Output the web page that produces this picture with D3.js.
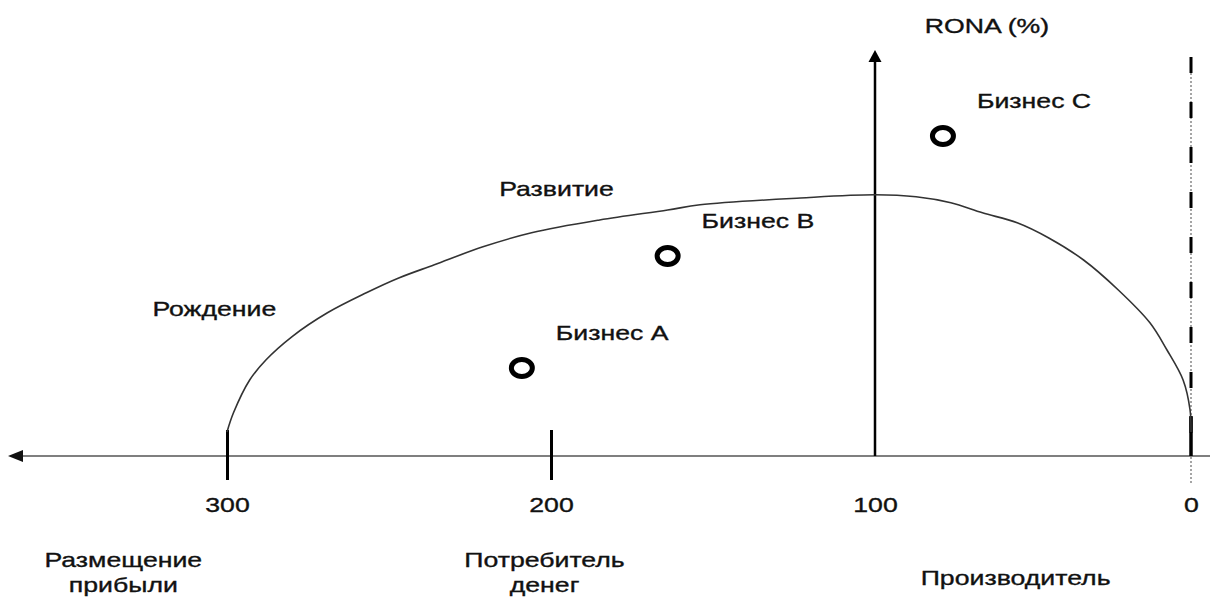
<!DOCTYPE html>
<html>
<head>
<meta charset="utf-8">
<script src="https://cdn.jsdelivr.net/npm/d3@7"></script>
<style>
  body { margin: 0; background: #fff; }
  svg text { font-family: "Liberation Sans", Arial, sans-serif; fill: #111; stroke: #111; stroke-width: 0.35px; }
</style>
</head>
<body>
<svg id="chart" width="1210" height="600"></svg>
<script>
var svg = d3.select("#chart");
var width = 1210, height = 600;

// axis ticks (capital employed, read right to left)
var tickValues = [300, 200, 100, 0];

// life-cycle curve: [x value, RONA]
var curveX = [300, 298, 293, 288, 280, 269, 257, 247, 236, 221, 206, 185, 164, 154, 123, 100, 87, 76, 66, 55, 45, 34, 23, 13, 7.6, 2.5, 0.3, 0];
var curveY = [6, 10.8, 19, 24, 29.8, 35.8, 40.8, 44.5, 47.8, 52.3, 55.8, 59, 61.5, 62.8, 64.5, 65.3, 64.8, 63.3, 60.8, 58.3, 54.5, 49, 41.5, 33.3, 26.5, 19, 11.5, 6];

// businesses
var bizNames = ["Бизнес А", "Бизнес В", "Бизнес С"];
var bizX = [209, 164, 78.5];
var bizY = [22, 50, 80];

// stage labels along the curve
var stageNames = ["Рождение", "Развитие"];
var stageX = [323, 216];
var stageY = [35, 65];

// bottom role labels
var roleLines = [["Размещение", "прибыли"], ["Потребитель", "денег"], ["Производитель"]];
var roleX = [332, 202, 55.5];

var x = d3.scaleLinear().domain([300, 100, 0]).range([227, 875, 1191]);
var y = d3.scaleLinear().domain([0, 100]).range([456, 56]);
var axisY = y(0);
var stretch = 1.27;

function stretchText(sel) {
  sel.each(function() {
    var w = this.getComputedTextLength();
    d3.select(this).attr("textLength", w * stretch).attr("lengthAdjust", "spacingAndGlyphs");
  });
}

// horizontal axis line with arrow to the left
svg.append("line")
  .attr("x1", 14).attr("x2", width)
  .attr("y1", axisY).attr("y2", axisY)
  .attr("stroke", "#555").attr("stroke-width", 1.6);
svg.append("path")
  .attr("d", "M8," + axisY + "L23," + (axisY - 6) + "L23," + (axisY + 6) + "Z")
  .attr("fill", "#111");

// ticks and labels
var xAxis = d3.axisBottom(x)
  .tickValues(tickValues)
  .tickSize(24)
  .tickPadding(17)
  .tickFormat(d3.format("d"));

var gx = svg.append("g")
  .attr("transform", "translate(0," + axisY + ")")
  .call(xAxis);
gx.select(".domain").remove();
gx.selectAll(".tick line")
  .attr("stroke", "#000")
  .attr("stroke-width", 3)
  .attr("y1", -26)
  .attr("display", function(d) { return (d == 300 || d == 200) ? null : "none"; });
gx.selectAll(".tick text")
  .attr("font-size", 21)
  .attr("fill", "#111")
  .call(stretchText);

// vertical RONA axis
svg.append("line")
  .attr("x1", x(100)).attr("x2", x(100))
  .attr("y1", axisY).attr("y2", 62)
  .attr("stroke", "#000").attr("stroke-width", 2.5);
svg.append("path")
  .attr("d", "M" + x(100) + ",50L" + (x(100) - 6.5) + ",62L" + (x(100) + 6.5) + ",62Z")
  .attr("fill", "#000");
svg.append("text")
  .attr("x", x(100) + 112).attr("y", 33)
  .attr("text-anchor", "middle")
  .attr("font-size", 21)
  .text("RONA (%)")
  .call(stretchText);

// dashed boundary at zero
svg.append("line")
  .attr("x1", x(0)).attr("x2", x(0))
  .attr("y1", 57).attr("y2", 483)
  .attr("stroke", "#888").attr("stroke-width", 1.5)
  .attr("stroke-dasharray", "2,2");
svg.append("line")
  .attr("x1", x(0)).attr("x2", x(0))
  .attr("y1", 57).attr("y2", axisY)
  .attr("stroke", "#000").attr("stroke-width", 3)
  .attr("stroke-dasharray", "16,29");
svg.append("line")
  .attr("x1", x(0)).attr("x2", x(0))
  .attr("y1", y(10)).attr("y2", axisY)
  .attr("stroke", "#000").attr("stroke-width", 3.5);

// life-cycle curve
var points = curveX.map(function(v, i) { return [v, curveY[i]]; });
var line = d3.line()
  .x(function(d) { return x(d[0]); })
  .y(function(d) { return y(d[1]); })
  .curve(d3.curveCatmullRom.alpha(0.5));

svg.append("path")
  .datum(points)
  .attr("d", line)
  .attr("fill", "none")
  .attr("stroke", "#333")
  .attr("stroke-width", 1.6);

// businesses
svg.selectAll(".biz")
  .data(bizNames)
  .enter()
  .append("ellipse")
    .attr("class", "biz")
    .attr("cx", function(d, i) { return x(bizX[i]); })
    .attr("cy", function(d, i) { return y(bizY[i]); })
    .attr("rx", 10.5)
    .attr("ry", 8.5)
    .attr("fill", "none")
    .attr("stroke", "#000")
    .attr("stroke-width", 5);

svg.selectAll(".bizlabel")
  .data(bizNames)
  .enter()
  .append("text")
    .attr("class", "bizlabel")
    .attr("x", function(d, i) { return x(bizX[i]) + 34; })
    .attr("y", function(d, i) { return y(bizY[i]) - 28; })
    .attr("font-size", 21)
    .text(function(d) { return d; })
    .call(stretchText);

// stage labels
svg.selectAll(".stage")
  .data(stageNames)
  .enter()
  .append("text")
    .attr("class", "stage")
    .attr("x", function(d, i) { return x(stageX[i]); })
    .attr("y", function(d, i) { return y(stageY[i]); })
    .attr("font-size", 21)
    .text(function(d) { return d; })
    .call(stretchText);

// role labels under the axis
roleLines.forEach(function(lines, i) {
  var base = lines.length > 1 ? 567 : 585;
  lines.forEach(function(t, j) {
    svg.append("text")
      .attr("x", x(roleX[i]))
      .attr("y", base + j * 25)
      .attr("text-anchor", "middle")
      .attr("font-size", 21)
      .text(t)
      .call(stretchText);
  });
});
</script>
</body>
</html>
